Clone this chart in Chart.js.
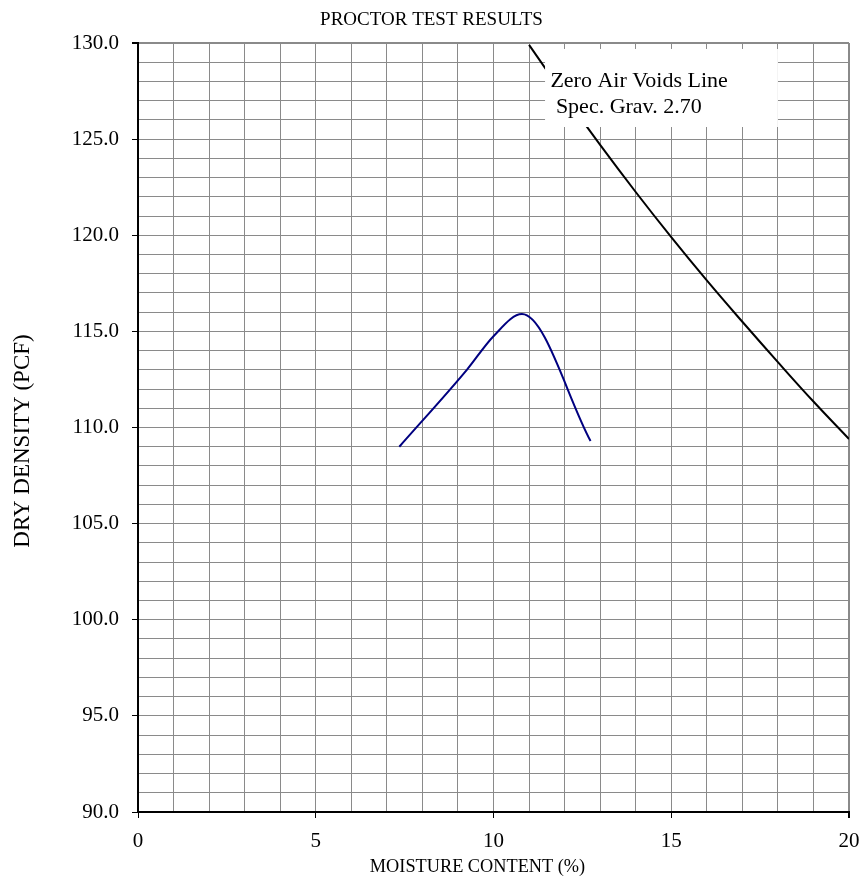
<!DOCTYPE html>
<html>
<head>
<meta charset="utf-8">
<script src="https://cdn.jsdelivr.net/npm/chart.js@4/dist/chart.umd.min.js"></script>
<style>
  html, body { margin: 0; padding: 0; background: #ffffff; }
  #wrap { width: 863px; height: 882px; position: relative; }
</style>
</head>
<body>
<div id="wrap"><canvas id="myChart"></canvas></div>
<script>
// Proctor test points (moisture %, dry density pcf)
const testMoisture = [7.35, 9.25, 10.0, 10.8, 12.73];
const testDensity = [109.0, 113.0, 114.75, 115.9, 109.3];

// Zero air voids line
const zavMoisture = [11, 12, 13, 14, 15, 16, 17, 18, 19, 20];
const zavDensity = [129.9, 127.25, 124.7, 122.25, 119.9, 117.65, 115.5, 113.4, 111.35, 109.4];

const xTicks = [0, 5, 10, 15, 20];
const yTicks = [90, 95, 100, 105, 110, 115, 120, 125, 130];
const chartTitle = 'PROCTOR TEST RESULTS';
const xTitle = 'MOISTURE CONTENT (%)';
const yTitle = 'DRY DENSITY (PCF)';
const noteLines = ['Zero Air Voids Line', ' Spec. Grav. 2.70'];

const serif = 'Liberation Serif, Times New Roman, serif';

const toPoints = (xs, ys) => xs.map((x, i) => ({ x: x, y: ys[i] }));

// Titulos del grafico y de los ejes
const titlePlugin = {
    id: 'titles',
    afterDraw(chart) {
        const { ctx, width } = chart;
        ctx.save();
        ctx.fillStyle = '#000000';
        ctx.textAlign = 'center';
        ctx.textBaseline = 'middle';

        ctx.font = '19px ' + serif;
        ctx.fillText(chartTitle, width / 2, 20);

        ctx.font = '18.3px ' + serif;
        ctx.fillText(xTitle, 477.5, 867);

        ctx.translate(23, 441);
        ctx.rotate(-Math.PI / 2);
        ctx.font = '23px ' + serif;
        ctx.fillText(yTitle, 0, 0);
        ctx.restore();
    }
};

// Caja blanca con la nota de la linea de vacios
const notePlugin = {
    id: 'note',
    afterDatasetsDraw(chart) {
        const { ctx, scales: { x, y } } = chart;
        const left = x.getPixelForValue(11.45);
        const right = x.getPixelForValue(18.0);
        const top = y.getPixelForValue(129.69);
        const bottom = y.getPixelForValue(125.63);
        ctx.save();
        ctx.fillStyle = '#ffffff';
        ctx.fillRect(left, top, right - left, bottom - top);
        ctx.fillStyle = '#000000';
        ctx.font = '22px ' + serif;
        ctx.textBaseline = 'alphabetic';
        ctx.textAlign = 'left';
        const tx = x.getPixelForValue(11.6);
        ctx.fillText(noteLines[0], tx, y.getPixelForValue(127.71));
        ctx.fillText(noteLines[1], tx, y.getPixelForValue(126.36));
        ctx.restore();
    }
};

const ctx = document.getElementById('myChart');

new Chart(ctx, {
    type: 'scatter',
    data: {
        datasets: [{
            data: toPoints(testMoisture, testDensity),
            showLine: true,
            borderColor: '#000080',
            borderWidth: 2,
            pointRadius: 0,
            cubicInterpolationMode: 'monotone'
        }, {
            data: toPoints(zavMoisture, zavDensity),
            showLine: true,
            borderColor: '#000000',
            borderWidth: 2,
            pointRadius: 0,
            tension: 0.4
        }]
    },
    options: {
        responsive: true,
        maintainAspectRatio: false,
        animation: false,
        layout: { padding: { left: 0, right: 14, top: 43, bottom: 0 } },
        plugins: {
            legend: { display: false },
            tooltip: { enabled: false },
            title: { display: false }
        },
        scales: {
            x: {
                type: 'linear',
                min: 0,
                max: 20,
                afterFit: (scale) => {
                    scale.height = 70;
                    scale.paddingLeft = 0;
                    scale.paddingRight = 0;
                },
                ticks: {
                    stepSize: 1,
                    autoSkip: false,
                    maxRotation: 0,
                    padding: 11,
                    color: '#000000',
                    font: { family: serif, size: 21 },
                    callback: (v) => xTicks.includes(v) ? String(v) : ''
                },
                grid: {
                    color: '#8a8a8a',
                    lineWidth: (c) => c.tick && c.tick.value === 20 ? 2 : 1,
                    tickLength: 6,
                    tickColor: (c) => c.tick && xTicks.includes(c.tick.value) ? '#000000' : 'rgba(0,0,0,0)'
                },
                border: { color: '#000000', width: 2 }
            },
            y: {
                min: 90,
                max: 130,
                afterFit: (scale) => { scale.width = 138; },
                ticks: {
                    stepSize: 1,
                    autoSkip: false,
                    padding: 13,
                    color: '#000000',
                    font: { family: serif, size: 21 },
                    callback: (v) => yTicks.includes(v) ? v.toFixed(1) : ''
                },
                grid: {
                    color: '#8a8a8a',
                    lineWidth: (c) => c.tick && c.tick.value === 130 ? 2 : 1,
                    tickLength: 6,
                    tickColor: (c) => c.tick && yTicks.includes(c.tick.value) ? '#000000' : 'rgba(0,0,0,0)'
                },
                border: { color: '#000000', width: 2 }
            }
        }
    },
    plugins: [notePlugin, titlePlugin]
});
</script>
</body>
</html>
